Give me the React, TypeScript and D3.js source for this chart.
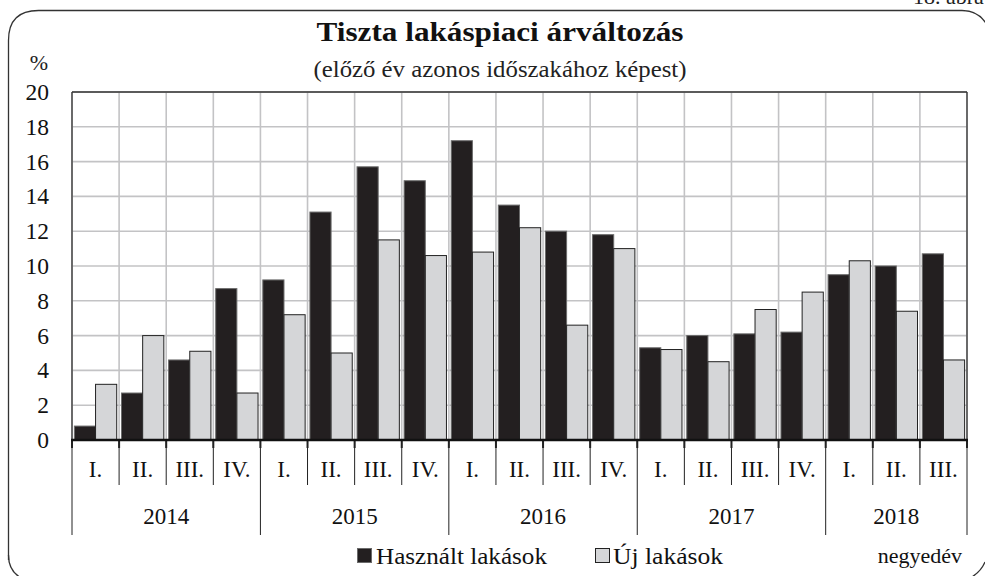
import React from "react";
import * as d3 from "d3";

const years = ["2014", "2015", "2016", "2017", "2018"];
const quarters = ["I.", "II.", "III.", "IV."];
const categories = [
  "2014 I.", "2014 II.", "2014 III.", "2014 IV.",
  "2015 I.", "2015 II.", "2015 III.", "2015 IV.",
  "2016 I.", "2016 II.", "2016 III.", "2016 IV.",
  "2017 I.", "2017 II.", "2017 III.", "2017 IV.",
  "2018 I.", "2018 II.", "2018 III.",
];
const hasznalt = [0.8, 2.7, 4.6, 8.7, 9.2, 13.1, 15.7, 14.9, 17.2, 13.5, 12.0, 11.8, 5.3, 6.0, 6.1, 6.2, 9.5, 10.0, 10.7];
const uj = [3.2, 6.0, 5.1, 2.7, 7.2, 5.0, 11.5, 10.6, 10.8, 12.2, 6.6, 11.0, 5.2, 4.5, 7.5, 8.5, 10.3, 7.4, 4.6];
const yTicks = [0, 2, 4, 6, 8, 10, 12, 14, 16, 18, 20];
const seriesNames = ["Használt lakások", "Új lakások"];

const W = 985;
const H = 576;
const left = 72;
const right = 967;
const top = 92;
const bottom = 440;
const FONT = "Liberation Serif, Times New Roman, serif";
const DARK = "#231f20";
const LIGHT = "#d5d6d8";
const GRID = "#c3c3c5";
const tStyle = { fontFamily: FONT };

export default function App() {
  const x = d3.scaleBand<string>().domain(categories).range([left, right]).paddingInner(0).paddingOuter(0);
  const inner = d3.scaleBand<string>().domain(["h", "u"]).range([0, x.bandwidth()]).paddingInner(0).paddingOuter(0.113);
  const y = d3.scaleLinear().domain([0, 20]).range([bottom, top]);

  const boundaries = d3.range(categories.length + 1).map((i) => left + i * x.step());

  const yearGroups = years.map((yr) => {
    const idx = categories.map((c, i) => (c.startsWith(yr) ? i : -1)).filter((i) => i >= 0);
    return { yr, start: idx[0], end: idx[idx.length - 1] + 1 };
  });

  const x0 = 8.5, y0 = 10.5, r = 30;
  const framePath = `M${x0},560 L${x0},${y0 + r} Q${x0},${y0} ${x0 + r},${y0} L962,${y0} Q983,${y0} 990,${y0 + 22}`;

  return (
    <svg width={W} height={H} style={{ position: "absolute", left: 0, top: 0, background: "#fff" }}>
      <rect x={0} y={0} width={W} height={H} fill="#fff" />
      <path d={framePath} fill="none" stroke="#333" strokeWidth={1.3} />
      <path d={`M${x0},555 Q${x0},574 26,580`} fill="none" stroke="#333" strokeWidth={1.3} />
      <path d="M966,580 Q980,574 985,562" fill="none" stroke="#333" strokeWidth={1.3} />
      <text x={913} y={4} fontSize={22} fill="#222" style={tStyle}>18. ábra</text>

      <text x={500} y={41} textAnchor="middle" fontSize={28} fontWeight="bold" fill="#111" style={tStyle}
        textLength={367} lengthAdjust="spacingAndGlyphs">Tiszta lakáspiaci árváltozás</text>
      <text x={500} y={77} textAnchor="middle" fontSize={24} fill="#222" style={tStyle}
        textLength={373} lengthAdjust="spacingAndGlyphs">(előző év azonos időszakához képest)</text>
      <text x={39} y={70} textAnchor="middle" fontSize={22} fill="#222" style={tStyle}>%</text>

      {yTicks.map((t) => (
        <line key={"h" + t} x1={left} x2={right} y1={y(t)} y2={y(t)} stroke={GRID} strokeWidth={1.6} />
      ))}
      {boundaries.map((bx, i) => (
        <line key={"v" + i} x1={bx} x2={bx} y1={top} y2={bottom} stroke={GRID} strokeWidth={1.6} />
      ))}

      {categories.map((c, i) => (
        <g key={c}>
          <rect
            x={(x(c) as number) + (inner("h") as number)}
            y={y(hasznalt[i])}
            width={inner.bandwidth()}
            height={y(0) - y(hasznalt[i])}
            fill={DARK}
            stroke="#6b6b6b"
            strokeWidth={1}
          />
          <rect
            x={(x(c) as number) + (inner("u") as number)}
            y={y(uj[i])}
            width={inner.bandwidth()}
            height={y(0) - y(uj[i])}
            fill={LIGHT}
            stroke="#222"
            strokeWidth={1}
          />
        </g>
      ))}

      <line x1={left} x2={right} y1={top} y2={top} stroke="#333" strokeWidth={1.3} />
      <line x1={left} x2={left} y1={top} y2={bottom} stroke="#333" strokeWidth={1.3} />
      <line x1={right} x2={right} y1={top} y2={bottom} stroke="#333" strokeWidth={1.3} />

      {yTicks.map((t) => (
        <text key={"yl" + t} x={49} y={y(t) + 8} textAnchor="end" fontSize={23.5} fill="#111" style={tStyle}>{t}</text>
      ))}

      {boundaries.map((bx, i) => {
        const isYear = yearGroups.some((g) => g.start === i || g.end === i);
        return (
          <g key={"t" + i}>
            <line x1={bx} x2={bx} y1={bottom} y2={isYear ? 535 : 485} stroke="#222" strokeWidth={1} />
            <line x1={bx} x2={bx} y1={bottom} y2={448} stroke="#222" strokeWidth={2} />
          </g>
        );
      })}
      <line x1={left - 1} x2={right + 1} y1={bottom} y2={bottom} stroke="#111" strokeWidth={2.5} />
      {categories.map((c, i) => (
        <text key={"q" + c} x={(x(c) as number) + x.bandwidth() / 2} y={477} textAnchor="middle" fontSize={23} fill="#111" style={tStyle}>
          {quarters[i % 4]}
        </text>
      ))}
      {yearGroups.map((g) => (
        <text key={g.yr} x={(boundaries[g.start] + boundaries[g.end]) / 2} y={524} textAnchor="middle" fontSize={23} fill="#111" style={tStyle}>
          {g.yr}
        </text>
      ))}

      <rect x={357.5} y={548.5} width={14} height={14} fill={DARK} stroke="#6b6b6b" strokeWidth={1} />
      <text x={376} y={564} fontSize={23} fill="#111" style={tStyle} textLength={171} lengthAdjust="spacingAndGlyphs">{seriesNames[0]}</text>
      <rect x={595.5} y={548.5} width={14} height={14} fill={LIGHT} stroke="#222" strokeWidth={1} />
      <text x={613} y={564} fontSize={23} fill="#111" style={tStyle} textLength={110} lengthAdjust="spacingAndGlyphs">{seriesNames[1]}</text>
      <text x={962} y={563} textAnchor="end" fontSize={22} fill="#111" style={tStyle}>negyedév</text>
    </svg>
  );
}
